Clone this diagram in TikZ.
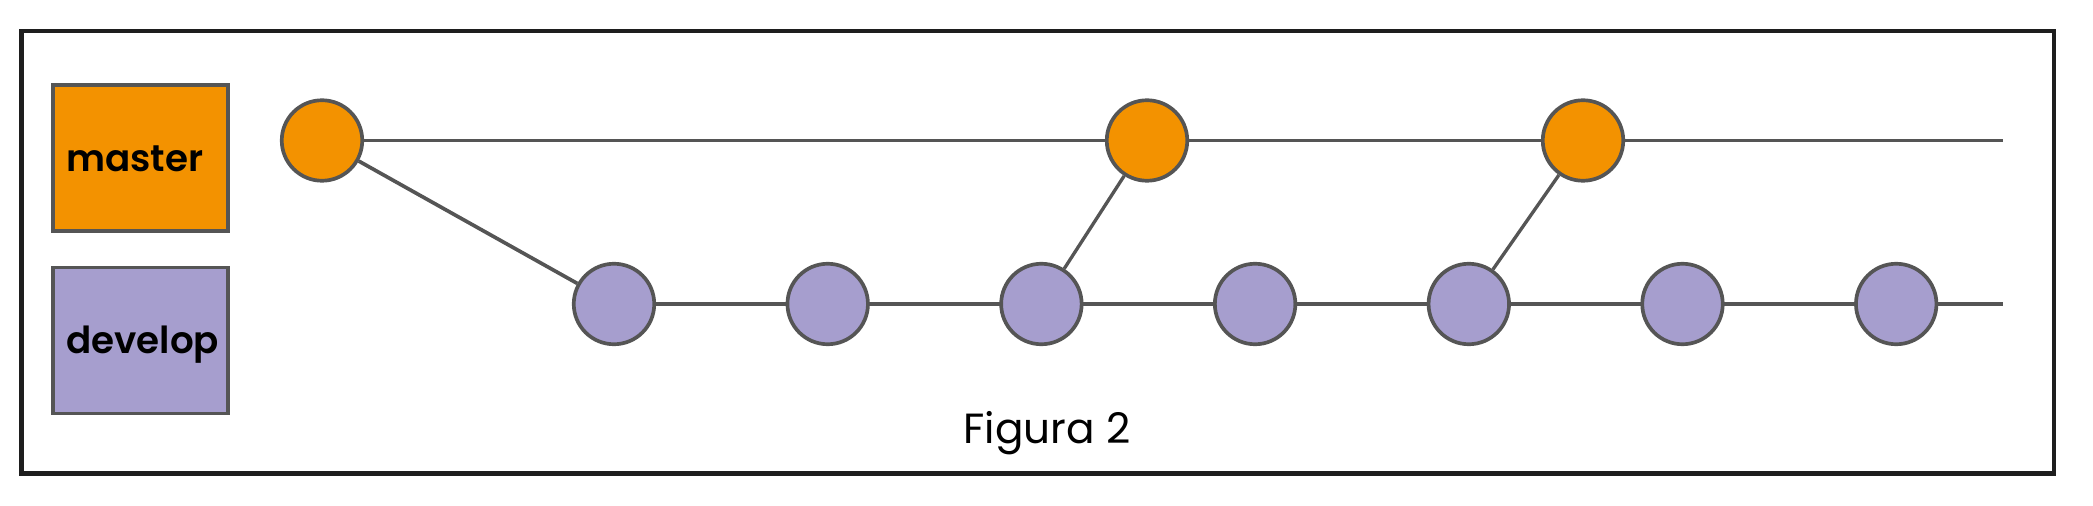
\documentclass[tikz,border=0pt]{standalone}
\usepackage{fontspec}
\setmainfont{Poppins}
\newfontfamily\branchfont{Poppins SemiBold}
\usetikzlibrary{positioning, backgrounds}
\definecolor{masterorange}{RGB}{243,146,0}
\definecolor{developpurple}{RGB}{166,158,206}
\definecolor{edgegray}{RGB}{85,85,85}
\definecolor{framegray}{RGB}{30,30,30}
\tikzset{
node distance=2.137cm, % spacing of the develop commits
commit/.style={circle, draw=edgegray, line width=1.05pt, minimum size=0.805cm, inner sep=0pt}, % every commit circle
mastercommit/.style={commit, fill=masterorange},
developcommit/.style={commit, fill=developpurple},
branchbox/.style={draw=edgegray, line width=1.05pt, inner xsep=0.13cm, inner ysep=0pt, text width=1.49cm, align=left, minimum height=1.46cm, text height=7.4pt, text depth=0pt, font=\branchfont\fontsize{10.6}{12}\selectfont},
branchline/.style={edgegray, line width=1.05pt},
mergeline/.style={edgegray, line width=0.95pt},
}

\begin{document}
\begin{tikzpicture}
\useasboundingbox (0,0) rectangle (20.93,5.05);
\draw[framegray, line width=1.15pt] (0.215,0.315) rectangle (20.54,4.74);
\node[branchbox, fill=masterorange] (masterbox) at (1.407,3.47) {master};
\node[branchbox, fill=developpurple] (developbox) at (1.407,1.645) {develop};
\node[mastercommit] (m1) at (3.22,3.645) {};
\node[developcommit] (d1) at (6.14,2.01) {};
\node[developcommit, right of=d1] (d2) {};
\node[developcommit, right of=d2] (d3) {};
\node[developcommit, right of=d3] (d4) {};
\node[developcommit, right of=d4] (d5) {};
\node[developcommit, right of=d5] (d6) {};
\node[developcommit, right of=d6] (d7) {};
\node[mastercommit] (m2) at (11.47,3.645) {};
\node[mastercommit] (m3) at (15.83,3.645) {};
\coordinate (mend) at (20.03,3.645);
\coordinate (dend) at (20.03,2.01);
\node[anchor=base, font=\fontsize{12}{14}\selectfont] (caption) at (10.47,0.62) {Figura 2};
\begin{scope}[on background layer]
\draw[branchline] (m1.center) -- (mend);
\draw[branchline] (d1.center) -- (dend);
\end{scope}
\draw[branchline] (m1) -- (d1);
\draw[mergeline] (d3) -- (m2);
\draw[mergeline] (d5) -- (m3);
\end{tikzpicture}
\end{document}
